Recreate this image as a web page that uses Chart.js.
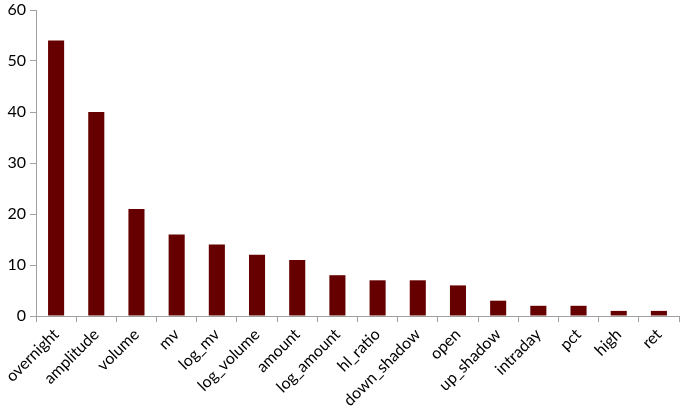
<!DOCTYPE html>
<html><head><meta charset="utf-8">
<script src="https://cdn.jsdelivr.net/npm/chart.js"></script>
<style>html,body{margin:0;padding:0;background:#fff}#w{width:690px;height:416px}</style>
</head><body><div id="w"><canvas id="c"></canvas></div>
<script>
const categories = ["overnight","amplitude","volume","mv","log_mv","log_volume","amount","log_amount","hl_ratio","down_shadow","open","up_shadow","intraday","pct","high","ret"];
const values = [54,40,21,16,14,12,11,8,7,7,6,3,2,2,1,1];
const yTicks = [0,10,20,30,40,50,60];
const font = "Lato, 'Open Sans', sans-serif";
new Chart(document.getElementById('c'), {
  type: 'bar',
  data: { labels: categories, datasets: [{ data: values, backgroundColor: '#660000', borderColor: '#5a0000', borderWidth: 0, categoryPercentage: 1, barPercentage: 0.4 }] },
  options: {
    responsive: true, maintainAspectRatio: false, animation: false,
    devicePixelRatio: 1,
    layout: { padding: { left: 0, top: 10, right: 11, bottom: 0 } },
    plugins: { legend: { display: false }, tooltip: { enabled: false } },
    scales: {
      x: {
        grid: { offset: true, drawOnChartArea: false, drawTicks: true, tickLength: 6, color: '#a0a0a0' },
        border: { color: '#a0a0a0', width: 1 },
        ticks: { color: '#000', font: { family: font, size: 16 }, minRotation: 45, maxRotation: 45, padding: 3, autoSkip: false },
        afterFit: s => { s.height = 100; }
      },
      y: {
        min: 0, max: 60,
        afterBuildTicks: s => { s.ticks = yTicks.map(v => ({ value: v })); },
        grid: { drawOnChartArea: false, drawTicks: true, tickLength: 6, color: '#a0a0a0' },
        border: { color: '#a0a0a0', width: 1 },
        ticks: { color: '#000', font: { family: font, size: 16 }, padding: 4 },
        afterFit: s => { s.width = 36; s.paddingTop = 0; s.paddingBottom = 0; }
      }
    }
  }
});
</script></body></html>
